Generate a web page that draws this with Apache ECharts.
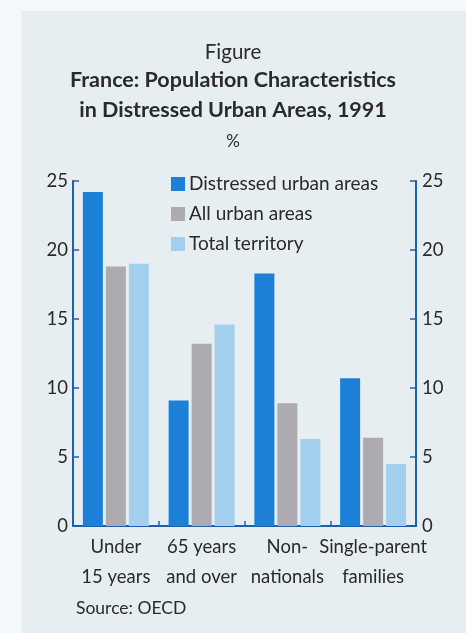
<!DOCTYPE html>
<html>
<head>
<meta charset="utf-8">
<script src="https://cdn.jsdelivr.net/npm/echarts@6/dist/echarts.min.js"></script>
<style>
  html, body { margin: 0; padding: 0; background: #f4f8fa; }
  #chart { width: 466px; height: 633px; }
</style>
</head>
<body>
<div id="chart"></div>
<script>
// Population shares (%) by area type, France 1991
const categories = ['Under\n15 years', '65 years\nand over', 'Non-\nnationals', 'Single-parent\nfamilies'];
const distressed = [24.2, 9.1, 18.3, 10.7];
const allUrban = [18.8, 13.2, 8.9, 6.4];
const totalTerritory = [19.0, 14.6, 6.3, 4.5];
const seriesNames = ['Distressed urban areas', 'All urban areas', 'Total territory'];
const yTicks = { min: 0, max: 25, interval: 5 };

const FONT = 'Lato';
const AXIS_BLUE = '#1f5fa9';
const TEXT = '#2a2a2a';

const chart = echarts.init(document.getElementById('chart'), null, { renderer: 'canvas' });

function valueAxis(pos) {
  return {
    type: 'value',
    position: pos,
    min: yTicks.min, max: yTicks.max, interval: yTicks.interval,
    axisLine: { show: true, lineStyle: { color: AXIS_BLUE, width: 2 } },
    axisTick: { show: true, inside: true, length: 6, lineStyle: { color: AXIS_BLUE, width: 1.5 } },
    axisLabel: { color: TEXT, fontFamily: FONT, fontSize: 18.5, margin: pos === 'left' ? 5 : 6 },
    splitLine: { show: false }
  };
}

chart.setOption({
  backgroundColor: '#f4f8fa',
  animation: false,
  graphic: [{
    type: 'rect', z: -10, silent: true,
    shape: { x: 21, y: 11, width: 445, height: 622 },
    style: { fill: '#e7eef2' }
  }],
  title: [
    { text: 'Figure', left: 'center', top: 37, textStyle: { fontFamily: FONT, fontSize: 20.5, fontWeight: 'normal', color: TEXT } },
    { text: 'France: Population Characteristics\nin Distressed Urban Areas, 1991', left: 'center', top: 60,
      textStyle: { fontFamily: FONT, fontSize: 21.5, fontWeight: 'bold', color: TEXT, lineHeight: 30 } },
    { text: '%', left: 'center', top: 128, textStyle: { fontFamily: FONT, fontSize: 17, fontWeight: 'normal', color: TEXT } },
    { text: 'Source: OECD', left: 71, top: 594, textStyle: { fontFamily: FONT, fontSize: 17.5, fontWeight: 'normal', color: TEXT } }
  ],
  legend: {
    orient: 'vertical', left: 166, top: 169,
    itemWidth: 14, itemHeight: 14, itemGap: 10,
    icon: 'rect',
    textStyle: { fontFamily: FONT, fontSize: 19, lineHeight: 20, color: TEXT, padding: [0, 0, 0, -1] },
    data: seriesNames
  },
  grid: { left: 73, right: 50, top: 181, bottom: 107, containLabel: false },
  xAxis: {
    type: 'category',
    data: categories,
    axisLine: { show: true, lineStyle: { color: AXIS_BLUE, width: 2 } },
    axisTick: { show: true, inside: true, length: 5, alignWithLabel: false, lineStyle: { color: AXIS_BLUE, width: 1.5 } },
    axisLabel: { color: TEXT, fontFamily: FONT, fontSize: 18.5, lineHeight: 30, margin: 6, interval: 0 }
  },
  yAxis: [valueAxis('left'), valueAxis('right')],
  series: [
    { name: seriesNames[0], type: 'bar', data: distressed, barWidth: 20, barGap: '15%', itemStyle: { color: '#1c80d8' } },
    { name: seriesNames[1], type: 'bar', data: allUrban, barWidth: 20, barGap: '15%', itemStyle: { color: '#aeaab1' } },
    { name: seriesNames[2], type: 'bar', data: totalTerritory, barWidth: 20, barGap: '15%', itemStyle: { color: '#a3cfee' } }
  ]
});
</script>
</body>
</html>
